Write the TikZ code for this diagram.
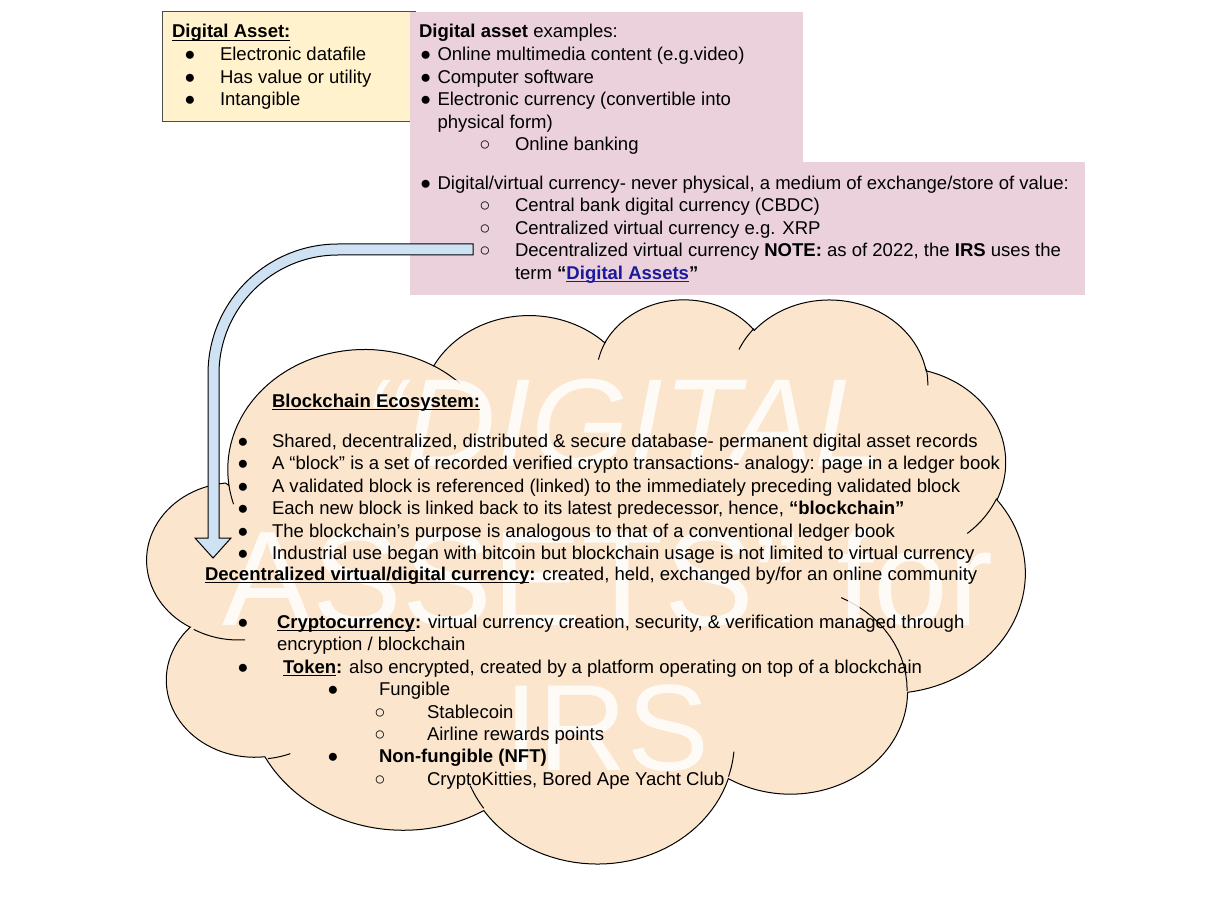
\documentclass[tikz,border=0pt]{standalone}
\usepackage{fontspec}
\setmainfont{Liberation Sans}
\usetikzlibrary{calc}
\definecolor{yelbox}{HTML}{FFF2CC}
\definecolor{pinkbox}{HTML}{EAD1DC}
\definecolor{cloudfill}{HTML}{FCE5CD}
\definecolor{arrowfill}{HTML}{CFE2F3}
\definecolor{linkblue}{HTML}{1A1A9A}
\newsavebox\ulxbox
\newcommand\ulx[1]{\sbox\ulxbox{#1}\rlap{\rule[-2.1pt]{\wd\ulxbox}{0.9pt}}\usebox\ulxbox}
% arc helper (OOXML arcTo with geometric angles)
\newcommand\CloudArc[6]{%
  \pgfmathsetmacro\caTa{atan2((#3)*sin(#5),(#4)*cos(#5))}%
  \pgfmathsetmacro\caTh{(#5)+(#6)}%
  \pgfmathsetmacro\caTb{atan2((#3)*sin(\caTh),(#4)*cos(\caTh))}%
  \pgfmathsetmacro\caD{\caTb-\caTa}%
  \pgfmathsetmacro\caD{ifthenelse(\caD-(#6)>180,\caD-360,ifthenelse(\caD-(#6)<-180,\caD+360,\caD))}%
  \pgfmathsetmacro\caCx{(#1)-(#3)*cos(\caTa)}%
  \pgfmathsetmacro\caCy{(#2)-(#4)*sin(\caTa)}%
  \pgfmathsetmacro\caTe{\caTa+\caD}%
  \pgfmathsetmacro\caEx{\caCx+(#3)*cos(\caTe)}%
  \pgfmathsetmacro\caEy{\caCy+(#4)*sin(\caTe)}%
}
\newcommand\AddArc[4]{%
  \CloudArc{\cpx}{\cpy}{#1}{#2}{#3}{#4}%
  \edef\CloudPath{\unexpanded\expandafter{\CloudPath} -- plot[domain=\caTa:\caTe,samples=40] ({\caCx+#1*cos(\noexpand\x)},{\caCy+#2*sin(\noexpand\x)})}%
  \let\cpx\caEx \let\cpy\caEy
}
\newcommand\AddInner[6]{%
  \CloudArc{#1}{#2}{#3}{#4}{#5}{#6}%
  \edef\InnerPath{\unexpanded\expandafter{\InnerPath} plot[domain=\caTa:\caTe,samples=15] ({\caCx+#3*cos(\noexpand\x)},{\caCy+#4*sin(\noexpand\x)})}%
}
\tikzset{
  txt/.style={anchor=base west, inner sep=0pt, outer sep=0pt, font=\fontsize{13.9}{16.7}\selectfont},
  wm/.style={anchor=base, inner sep=0pt, text=white, text opacity=0.85, font=\fontsize{94}{110}\selectfont},
  cloudshape/.style={fill=cloudfill, draw=black, line width=0.75pt},
  cloudline/.style={draw=black, line width=0.75pt},
  bentarrow/.style={fill=arrowfill, draw=black, line width=0.75pt, line join=miter},
}
\begin{document}
\begin{tikzpicture}[x=0.75pt,y=-0.75pt]
\useasboundingbox[fill=white] (0,0) rectangle (1213,902);
% boxes
\filldraw[fill=yelbox, draw=black!70, line width=0.75pt] (162,12) rectangle (415,122);
\fill[pinkbox] (410,12) rectangle (803,162);
\fill[pinkbox] (410,162) rectangle (1085,295);
% cloud
\def\cpx{390}\def\cpy{1437}
\def\CloudPath{(390,1437)}
\AddArc{675.3}{919.0}{-190.4875}{123.7805}
\AddArc{533.3}{726.7}{-144.1024}{89.9452}
\AddArc{436.5}{594.5}{-145.8079}{99.7230}
\AddArc{485.7}{659.5}{-130.9861}{117.2417}
\AddArc{533.3}{727.3}{-78.7089}{109.0269}
\AddArc{677.5}{922.0}{-46.2673}{130.2690}
\AddArc{578.5}{786.7}{0.6250}{114.0333}
\AddArc{675.2}{921.5}{22.4516}{115.1726}
\AddArc{772.0}{1054.3}{66.2426}{78.0493}
\AddArc{436.0}{591.8}{-274.9421}{146.7356}
\AddArc{434.5}{594.5}{-246.8285}{152.5189}
\def\InnerPath{}
\AddInner{469.3}{2617.7}{434.5}{594.5}{86.7420}{26.4295}
\AddInner{692.8}{3489.9}{436.0}{591.8}{73.6105}{11.4475}
\AddInner{1647.8}{3909.0}{675.2}{921.5}{137.6242}{14.0811}
\AddInner{2882.7}{3475.1}{675.2}{921.5}{6.4533}{15.9984}
\AddInner{3412.9}{2295.4}{578.5}{786.7}{-70.2924}{70.9174}
\AddInner{4179.8}{1535.4}{533.3}{727.3}{30.3180}{27.7515}
\AddInner{3832.4}{542.6}{485.7}{659.5}{-13.7443}{14.8589}
\AddInner{2907.8}{395.2}{485.7}{659.5}{-149.1815}{18.1954}
\AddInner{2214.1}{472.0}{436.5}{594.5}{-163.4943}{17.6864}
\AddInner{1400.0}{519.2}{675.3}{919.0}{-66.7070}{12.3194}
\AddInner{412.7}{1578.9}{675.3}{919.0}{157.6544}{11.8582}
\begin{scope}[shift={(150,298)}, xscale=0.20255, yscale=0.13056]
\edef\tmp{\noexpand\path[cloudshape] \unexpanded\expandafter{\CloudPath} -- cycle;}\tmp
\edef\tmp{\noexpand\path[cloudline] \unexpanded\expandafter{\InnerPath};}\tmp
\end{scope}
% watermark
\node[wm] (wm1) at (624,466) {\itshape “DIGITAL};
\node[wm, font=\fontsize{101}{120}\selectfont] (wm2) at (608,625) {ASSETS” for};
\node[wm, font=\fontsize{92}{110}\selectfont] (wm3) at (607,770) {IRS};
% yellow box text
\node[txt] (ya) at (172,38) {\textbf{\ulx{Digital Asset:}}};
\node[txt] (yb1) at (184.4,61) {●};
\node[txt] (yt1) at (220,61) {Electronic datafile};
\node[txt] (yb2) at (184.4,83.5) {●};
\node[txt] (yt2) at (220,83.5) {Has value or utility};
\node[txt] (yb3) at (184.4,106) {●};
\node[txt] (yt3) at (220,106) {Intangible};
% pink box text
\node[txt] (pa) at (419,38) {\textbf{Digital asset} examples:};
\node[txt] (pb1) at (420,61) {●};
\node[txt] (pt1) at (437.5,61) {Online multimedia content (e.g.video)};
\node[txt] (pb2) at (420,83.5) {●};
\node[txt] (pt2) at (437.5,83.5) {Computer software};
\node[txt] (pb3) at (420,106) {●};
\node[txt] (pt3) at (437.5,106) {Electronic currency (convertible into};
\node[txt] (pt3b) at (437.5,128.5) {physical form)};
\node[txt] (pc1) at (479.4,151) {○};
\node[txt] (pu1) at (515,151) {Online banking};
\node[txt] (pb4) at (420,189.5) {●};
\node[txt] (pt4) at (437.5,189.5) {Digital/virtual currency- never physical, a medium of exchange/store of value:};
\node[txt] (pc2) at (479.4,212) {○};
\node[txt] (pu2) at (515,212) {Central bank digital currency (CBDC)};
\node[txt] (pc3) at (479.4,234.5) {○};
\node[txt] (pu3) at (515,234.5) {Centralized virtual currency e.g. XRP};
\node[txt] (pc4) at (479.4,257) {○};
\node[txt] (pu4) at (515,257) {Decentralized virtual currency \textbf{NOTE:} as of 2022, the \textbf{IRS} uses the};
\node[txt] (pu4b) at (515,279.5) {term \textbf{“\textcolor{linkblue}{\ulx{Digital Assets}}”}};
% cloud text
\node[txt] (ca) at (272,407) {\textbf{\ulx{Blockchain Ecosystem:}}};
\node[txt] (cb1) at (237.4,447) {●};
\node[txt] (ct1) at (272,447) {Shared, decentralized, distributed \& secure database- permanent digital asset records};
\node[txt] (cb2) at (237.4,469.5) {●};
\node[txt] (ct2) at (272,469.5) {A “block” is a set of recorded verified crypto transactions- analogy: page in a ledger book};
\node[txt] (cb3) at (237.4,492) {●};
\node[txt] (ct3) at (272,492) {A validated block is referenced (linked) to the immediately preceding validated block};
\node[txt] (cb4) at (237.4,514.5) {●};
\node[txt] (ct4) at (272,514.5) {Each new block is linked back to its latest predecessor, hence, \textbf{“blockchain”}};
\node[txt] (cb5) at (237.4,537) {●};
\node[txt] (ct5) at (272,537) {The blockchain’s purpose is analogous to that of a conventional ledger book};
\node[txt] (cb6) at (237.4,559.5) {●};
\node[txt] (ct6) at (272,559.5) {Industrial use began with bitcoin but blockchain usage is not limited to virtual currency};
\node[txt] (cd) at (205,580.5) {\textbf{\ulx{Decentralized virtual/digital currency}:} created, held, exchanged by/for an online community};
\node[txt] (cb7) at (237.4,628) {●};
\node[txt] (ct7) at (277,628) {\textbf{\ulx{Cryptocurrency}:} virtual currency creation, security, \& verification managed through};
\node[txt] (ct7b) at (277,650.5) {encryption / blockchain};
\node[txt] (cb8) at (237.4,673) {●};
\node[txt] (ct8) at (283,673) {\textbf{\ulx{Token}:} also encrypted, created by a platform operating on top of a blockchain};
\node[txt] (cb9) at (327.4,695.5) {●};
\node[txt] (ct9) at (379,695.5) {Fungible};
\node[txt] (cc1) at (374.4,718) {○};
\node[txt] (cu1) at (427,718) {Stablecoin};
\node[txt] (cc2) at (374.4,740.5) {○};
\node[txt] (cu2) at (427,740.5) {Airline rewards points};
\node[txt] (cb10) at (327.4,762.5) {●};
\node[txt] (ct10) at (379,762.5) {\textbf{Non-fungible (NFT)}};
\node[txt] (cc3) at (374.4,785) {○};
\node[txt] (cu3) at (427,785) {CryptoKitties, Bored Ape Yacht Club};
% bent block arrow from the pink box to the cloud
\coordinate (arrS) at (473,249.5);
\coordinate (arrT) at (213,558);
\path[bentarrow] ($(arrS)+(0,-5.5)$) -- (338,244) .. controls (266.2,244) and (208,302.2) .. (208,374)
  -- (208,538) -- (195,538) -- (arrT) -- (231,538) -- (219,538) -- (219,374)
  .. controls (219,308.3) and (272.3,255) .. (338,255) -- ($(arrS)+(0,5.5)$) -- cycle;
\end{tikzpicture}
\end{document}
